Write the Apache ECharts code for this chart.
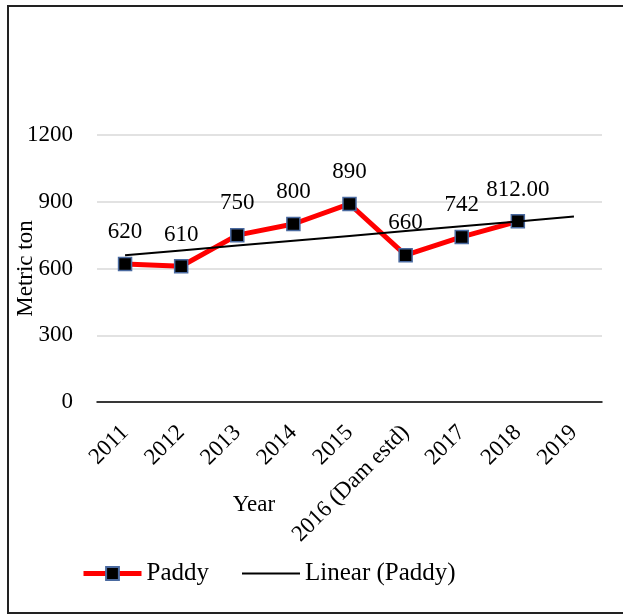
<!DOCTYPE html>
<html>
<head>
<meta charset="utf-8">
<script src="https://cdn.jsdelivr.net/npm/echarts@6/dist/echarts.min.js"></script>
<style>
  html, body { margin: 0; padding: 0; background: #fff; }
  #chart { width: 623px; height: 615px; }
</style>
</head>
<body>
<div id="chart"></div>
<script>
// Paddy production by year, with a least-squares trend
const years = ['2011', '2012', '2013', '2014', '2015', '2016 (Dam estd)', '2017', '2018', '2019'];
const paddy = [620, 610, 750, 800, 890, 660, 742, 812];
const paddyLabels = ['620', '610', '750', '800', '890', '660', '742', '812.00'];
const yTicks = [0, 300, 600, 900, 1200];

// Linear fit over the observed points, projected across every year on the axis
function linearFit(vals, n) {
  const m = vals.length;
  let sx = 0, sy = 0;
  vals.forEach((v, i) => { sx += i + 1; sy += v; });
  const mx = sx / m, my = sy / m;
  let sxy = 0, sxx = 0;
  vals.forEach((v, i) => { sxy += (i + 1 - mx) * (v - my); sxx += (i + 1 - mx) * (i + 1 - mx); });
  const b = sxy / sxx, a = my - b * mx;
  const out = [];
  for (let k = 1; k <= n; k++) out.push(a + b * k);
  return out;
}
const trend = linearFit(paddy, years.length);

const serif = '"Liberation Serif", "DejaVu Serif", serif';
const chart = echarts.init(document.getElementById('chart'), null, { renderer: 'canvas' });
chart.setOption({
  backgroundColor: '#fff',
  animation: false,
  textStyle: { fontFamily: serif, color: '#000' },
  graphic: [
    { type: 'rect', shape: { x: 8, y: 6, width: 625, height: 607 },
      style: { fill: 'none', stroke: '#222', lineWidth: 2 }, silent: true },
    { type: 'text', x: 254, y: 505,
      style: { text: 'Year', font: '23px ' + serif, fill: '#000', align: 'center', verticalAlign: 'middle' } }
  ],
  grid: { left: 97, right: 21, top: 135, bottom: 213, containLabel: false, outerBoundsMode: 'none' },
  legend: {
    left: 76, top: 556,
    itemWidth: 58, itemHeight: 16, itemGap: 32,
    textStyle: { fontFamily: serif, fontSize: 25, color: '#000' },
    data: [
      { name: 'Paddy', lineStyle: { width: 5 } },
      { name: 'Linear (Paddy)', itemStyle: { opacity: 0 }, lineStyle: { width: 2 } }
    ]
  },
  xAxis: {
    type: 'category',
    data: years,
    boundaryGap: true,
    axisLine: { lineStyle: { color: '#000', width: 1.5 } },
    axisTick: { show: false },
    axisLabel: { rotate: 45, fontFamily: serif, fontSize: 23, color: '#000', margin: 27,
                 interval: 0, verticalAlign: 'middle' }
  },
  yAxis: {
    type: 'value',
    min: yTicks[0], max: yTicks[yTicks.length - 1], interval: 300,
    name: 'Metric ton', nameLocation: 'middle', nameGap: 60, nameMoveOverlap: false,
    nameTextStyle: { fontFamily: serif, fontSize: 23, color: '#000' },
    axisLine: { show: false },
    axisTick: { show: false },
    axisLabel: { fontFamily: serif, fontSize: 23, color: '#000', margin: 24, formatter: v => String(v) },
    splitLine: { lineStyle: { color: '#d9d9d9', width: 1.5 } }
  },
  series: [
    {
      name: 'Paddy',
      type: 'line',
      data: paddy,
      z: 3,
      lineStyle: { color: '#ff0000', width: 5 },
      symbol: 'rect',
      symbolSize: 13,
      itemStyle: { color: '#000', borderColor: '#4a6aa0', borderWidth: 1.5 },
      label: {
        show: true, position: 'top', distance: 13,
        fontFamily: serif, fontSize: 23, color: '#000',
        formatter: p => paddyLabels[p.dataIndex]
      }
    },
    {
      name: 'Linear (Paddy)',
      type: 'line',
      data: trend,
      z: 4,
      symbol: 'none',
      lineStyle: { color: '#000', width: 2 },
      itemStyle: { color: '#000' },
      silent: true
    }
  ]
});
</script>
</body>
</html>
